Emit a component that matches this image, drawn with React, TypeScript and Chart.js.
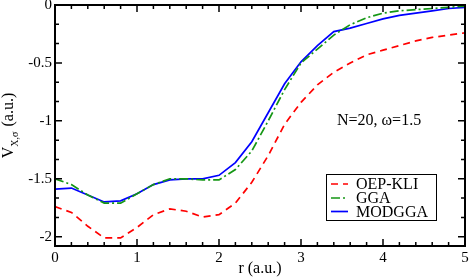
import React, { useEffect, useRef } from "react";
import { Chart, registerables } from "chart.js";
Chart.register(...registerables);

const rValues = [0, 0.2, 0.4, 0.6, 0.8, 1.0, 1.2, 1.4, 1.6, 1.8, 2.0, 2.2, 2.4, 2.6, 2.8, 3.0, 3.2, 3.4, 3.6, 3.8, 4.0, 4.2, 4.4, 4.6, 4.8, 5.0];
const oepKli = [-1.74, -1.79, -1.91, -2.01, -2.01, -1.92, -1.81, -1.76, -1.78, -1.83, -1.81, -1.71, -1.53, -1.30, -1.03, -0.84, -0.69, -0.58, -0.50, -0.43, -0.39, -0.35, -0.31, -0.28, -0.26, -0.24];
const gga = [-1.50, -1.55, -1.64, -1.71, -1.71, -1.63, -1.55, -1.50, -1.50, -1.51, -1.51, -1.42, -1.26, -1.00, -0.73, -0.50, -0.38, -0.26, -0.17, -0.11, -0.07, -0.05, -0.04, -0.03, -0.02, -0.01];
const modgga = [-1.59, -1.58, -1.64, -1.70, -1.69, -1.63, -1.55, -1.51, -1.50, -1.50, -1.47, -1.36, -1.18, -0.93, -0.68, -0.49, -0.35, -0.23, -0.20, -0.16, -0.12, -0.09, -0.07, -0.05, -0.03, -0.02];

const seriesNames = ["OEP-KLI", "GGA", "MODGGA"];
const seriesColors = ["#ff0000", "rgb(20,150,20)", "#0000ff"];
const seriesDashes = [[7, 5], [9, 3, 2, 3], []];

const xTickValues = [0, 1, 2, 3, 4, 5];
const yTickValues = [0, -0.5, -1, -1.5, -2];
const xMinorPerMajor = 4;
const yMinorPerMajor = 2;
const X_MIN = 0, X_MAX = 5, Y_MIN = -2.08, Y_MAX = 0;

const xTitle = "r (a.u.)";
const yTitleMain = "V";
const yTitleSub = "X,σ";
const yTitleUnit = " (a.u.)";
const annotationText = "N=20, ω=1.5";

const FONT = "'Liberation Serif', 'Times New Roman', serif";

const decorPlugin = {
  id: "decor",
  afterDatasetsDraw(chart: any) {
    const { ctx, chartArea: a, scales } = chart;
    const x = scales.x, y = scales.y;
    ctx.save();
    ctx.strokeStyle = "#000";
    ctx.lineWidth = 2;
    ctx.strokeRect(a.left, a.top, a.right - a.left, a.bottom - a.top);

    ctx.lineWidth = 1.5;
    const majorLen = 7, minorLen = 4;
    const xTick = (v: number, len: number) => {
      const px = x.getPixelForValue(v);
      ctx.beginPath();
      ctx.moveTo(px, a.bottom); ctx.lineTo(px, a.bottom - len);
      ctx.moveTo(px, a.top); ctx.lineTo(px, a.top + len);
      ctx.stroke();
    };
    const yTick = (v: number, len: number) => {
      const py = y.getPixelForValue(v);
      ctx.beginPath();
      ctx.moveTo(a.left, py); ctx.lineTo(a.left + len, py);
      ctx.moveTo(a.right, py); ctx.lineTo(a.right - len, py);
      ctx.stroke();
    };
    xTickValues.forEach((v, i) => {
      xTick(v, majorLen);
      if (i < xTickValues.length - 1) {
        const step = (xTickValues[i + 1] - v) / (xMinorPerMajor + 1);
        for (let k = 1; k <= xMinorPerMajor; k++) xTick(v + k * step, minorLen);
      }
    });
    yTickValues.forEach((v, i) => {
      yTick(v, majorLen);
      if (i < yTickValues.length - 1) {
        const step = (yTickValues[i + 1] - v) / (yMinorPerMajor + 1);
        for (let k = 1; k <= yMinorPerMajor; k++) yTick(v + k * step, minorLen);
      }
    });

    // Y title with subscript, rotated
    ctx.fillStyle = "#000";
    const mainFont = `16px ${FONT}`;
    const subFont = `10px ${FONT}`;
    ctx.font = mainFont;
    const wV = ctx.measureText(yTitleMain).width;
    const wU = ctx.measureText(yTitleUnit).width;
    ctx.font = subFont;
    const wS = ctx.measureText(yTitleSub).width;
    const total = wV + wS + wU + 1;
    const cy = (a.top + a.bottom) / 2;
    ctx.save();
    ctx.translate(13, cy);
    ctx.rotate(-Math.PI / 2);
    ctx.textBaseline = "alphabetic";
    ctx.textAlign = "left";
    let sx = -total / 2;
    ctx.font = mainFont;
    ctx.fillText(yTitleMain, sx, 0);
    sx += wV;
    ctx.font = subFont;
    ctx.fillText(yTitleSub, sx, 5);
    sx += wS + 1;
    ctx.font = mainFont;
    ctx.fillText(yTitleUnit, sx, 0);
    ctx.restore();

    // annotation
    ctx.font = `16px ${FONT}`;
    ctx.textAlign = "left";
    ctx.textBaseline = "alphabetic";
    ctx.fillText(annotationText, 337, 125);

    // legend
    const bx = 326.5, by = 174.5, bw = 110, bh = 46;
    ctx.fillStyle = "#fff";
    ctx.fillRect(bx, by, bw, bh);
    ctx.strokeStyle = "#000";
    ctx.lineWidth = 1;
    ctx.strokeRect(bx, by, bw, bh);
    const rowY = [184, 198, 211.5];
    chart.data.datasets.forEach((ds: any, i: number) => {
      ctx.save();
      ctx.strokeStyle = ds.borderColor;
      ctx.lineWidth = ds.borderWidth;
      ctx.setLineDash(ds.borderDash || []);
      ctx.beginPath();
      ctx.moveTo(331, rowY[i]);
      ctx.lineTo(348, rowY[i]);
      ctx.stroke();
      ctx.restore();
      ctx.fillStyle = "#000";
      ctx.font = `16px ${FONT}`;
      ctx.textBaseline = "alphabetic";
      ctx.fillText(ds.label, 356, rowY[i] + 5);
    });
    ctx.restore();
  },
};

export default function App() {
  const ref = useRef<HTMLCanvasElement>(null);
  useEffect(() => {
    if (!ref.current) return;
    const series = [oepKli, gga, modgga];
    const chart = new Chart(ref.current, {
      type: "line",
      data: {
        datasets: series.map((vals, i) => ({
          label: seriesNames[i],
          data: rValues.map((r, j) => ({ x: r, y: vals[j] })),
          borderColor: seriesColors[i],
          borderWidth: 1.7,
          borderDash: seriesDashes[i],
          pointRadius: 0,
          tension: 0,
          fill: false,
        })),
      },
      options: {
        animation: false,
        responsive: false,
        devicePixelRatio: 1,
        layout: { padding: { top: 5, right: 6, left: 0, bottom: 0 } },
        plugins: { legend: { display: false }, tooltip: { enabled: false } },
        scales: {
          x: {
            type: "linear",
            min: X_MIN,
            max: X_MAX,
            grid: { display: false, drawTicks: false },
            border: { display: false },
            afterBuildTicks: (s: any) => { s.ticks = xTickValues.map((v) => ({ value: v })); },
            afterFit: (s: any) => { s.height = 31; s.paddingLeft = 0; s.paddingRight = 0; },
            ticks: { padding: 3, color: "#000", maxRotation: 0, autoSkip: false, font: { family: FONT, size: 15 }, callback: (v: any) => String(v) },
            title: { display: true, text: xTitle, color: "#000", padding: { top: 0, bottom: 0 }, font: { family: FONT, size: 16, lineHeight: 1 } },
          },
          y: {
            type: "linear",
            min: Y_MIN,
            max: Y_MAX,
            grid: { display: false, drawTicks: false },
            border: { display: false },
            afterBuildTicks: (s: any) => { s.ticks = yTickValues.map((v) => ({ value: v })); },
            afterFit: (s: any) => { s.width = 55; s.paddingTop = 0; s.paddingBottom = 0; },
            ticks: { padding: 3, color: "#000", autoSkip: false, font: { family: FONT, size: 15 }, callback: (v: any) => String(v) },
          },
        },
      },
      plugins: [decorPlugin],
    });
    return () => chart.destroy();
  }, []);
  return (
    <div style={{ position: "fixed", left: 0, top: 0, width: 471, height: 277, background: "#fff" }}>
      <canvas ref={ref} width={471} height={277} style={{ display: "block" }} />
    </div>
  );
}
